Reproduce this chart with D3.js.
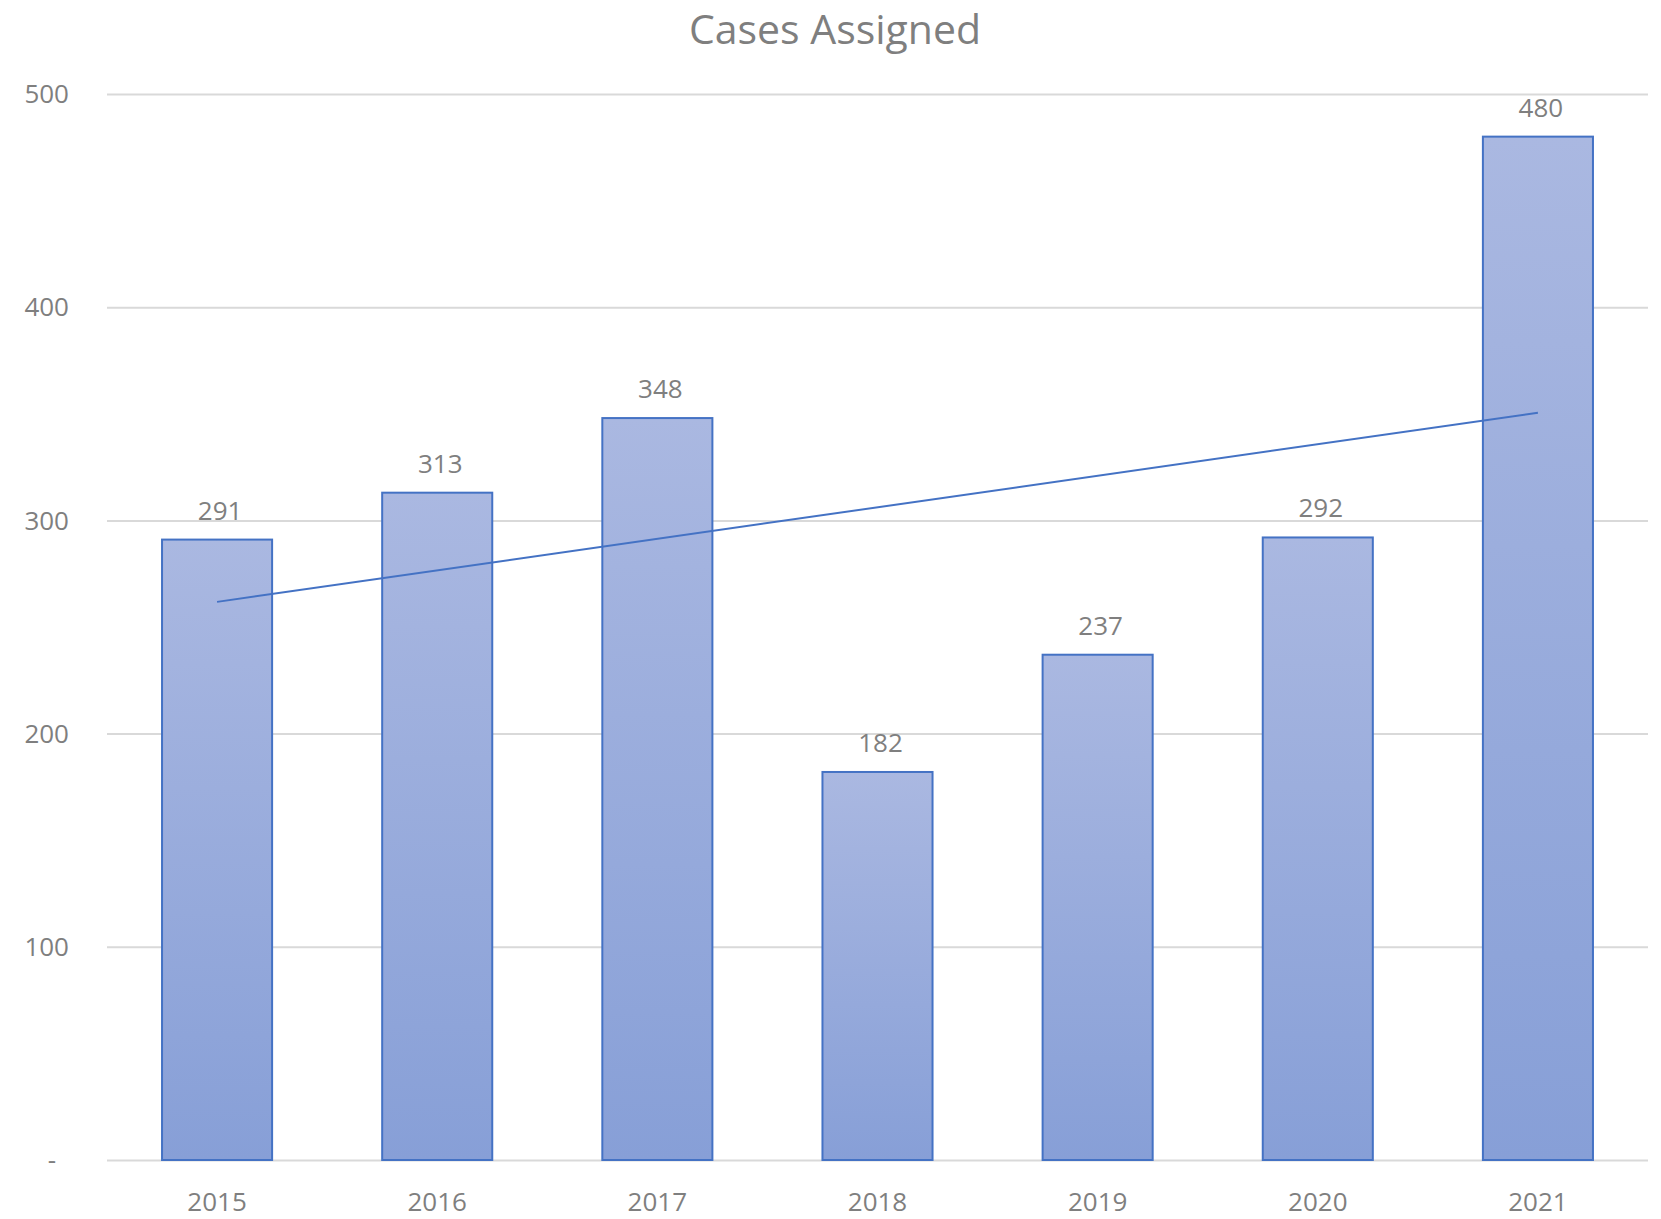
<!DOCTYPE html>
<html>
<head>
<meta charset="utf-8">
<script src="https://cdn.jsdelivr.net/npm/d3@7"></script>
<style>
  body { margin: 0; background: #fff; }
  text { font-family: "Open Sans", sans-serif; fill: #7f7f7f; }
</style>
</head>
<body>
<div id="chart"></div>
<script>
const years = ["2015", "2016", "2017", "2018", "2019", "2020", "2021"];
const cases = [291, 313, 348, 182, 237, 292, 480];
const yTicks = [0, 100, 200, 300, 400, 500];
const chartTitle = "Cases Assigned";

const w = 1661;
const h = 1219;
const margin = {top: 94, right: 13, bottom: 59, left: 107};

const svg = d3.select("#chart")
    .append("svg")
    .attr("width", w)
    .attr("height", h);

// per-bar vertical gradient
const grad = svg.append("defs").append("linearGradient")
    .attr("id", "barFill")
    .attr("x1", 0).attr("y1", 0)
    .attr("x2", 0).attr("y2", 1);
grad.append("stop").attr("offset", "0%").attr("stop-color", "#aab8e1");
grad.append("stop").attr("offset", "100%").attr("stop-color", "#879fd7");

const xScale = d3.scaleBand()
    .domain(years)
    .range([margin.left, w - margin.right])
    .paddingInner(0.5)
    .paddingOuter(0.25);
const yScale = d3.scaleLinear()
    .domain([0, 500])
    .range([h - margin.bottom, margin.top]);

// gridlines
svg.append("g")
    .attr("class", "grid")
    .attr("transform", `translate(${margin.left},0)`)
    .call(d3.axisLeft(yScale).tickValues(yTicks).tickSize(-(w - margin.left - margin.right)).tickFormat(""))
    .call(g => g.select(".domain").remove())
    .call(g => g.selectAll("line").attr("stroke", "#d9d9d9").attr("stroke-width", 2));

// y labels (zero shown as a dash, accounting style)
svg.append("g")
    .selectAll("text")
    .data(yTicks)
    .enter()
    .append("text")
    .attr("x", d => d === 0 ? 56 : 69)
    .attr("y", d => yScale(d))
    .attr("dy", "0.35em")
    .attr("text-anchor", "end")
    .attr("font-size", "26px")
    .text(d => d === 0 ? "-" : d);

// bars
svg.selectAll("rect.bar")
    .data(cases)
    .enter()
    .append("rect")
    .attr("class", "bar")
    .attr("x", (d, i) => xScale(years[i]))
    .attr("y", d => yScale(d))
    .attr("width", xScale.bandwidth())
    .attr("height", d => yScale(0) - yScale(d))
    .attr("fill", "url(#barFill)")
    .attr("stroke", "#4472c4")
    .attr("stroke-width", 2);

// data labels
svg.selectAll("text.val")
    .data(cases)
    .enter()
    .append("text")
    .attr("class", "val")
    .attr("x", (d, i) => xScale(years[i]) + xScale.bandwidth() / 2 + 3)
    .attr("y", d => yScale(d) - 20)
    .attr("text-anchor", "middle")
    .attr("font-size", "26px")
    .text(d => d);

// x labels
svg.selectAll("text.year")
    .data(years)
    .enter()
    .append("text")
    .attr("class", "year")
    .attr("x", d => xScale(d) + xScale.bandwidth() / 2)
    .attr("y", 1211)
    .attr("text-anchor", "middle")
    .attr("font-size", "26px")
    .text(d => d);

// linear trendline (least squares)
const idx = cases.map((d, i) => i + 1);
const mx = d3.mean(idx);
const my = d3.mean(cases);
const slope = d3.sum(idx, (x, i) => (x - mx) * (cases[i] - my)) / d3.sum(idx, x => (x - mx) * (x - mx));
const intercept = my - slope * mx;
const trend = years.map((yr, i) => [yr, intercept + slope * (i + 1)]);
const line = d3.line()
    .x(d => xScale(d[0]) + xScale.bandwidth() / 2)
    .y(d => yScale(d[1]));
svg.append("path")
    .datum([trend[0], trend[trend.length - 1]])
    .attr("d", line)
    .attr("fill", "none")
    .attr("stroke", "#4472c4")
    .attr("stroke-width", 2);

// title
svg.append("text")
    .attr("x", 835)
    .attr("y", 44)
    .attr("text-anchor", "middle")
    .attr("font-size", "41px")
    .text(chartTitle);
</script>
</body>
</html>
